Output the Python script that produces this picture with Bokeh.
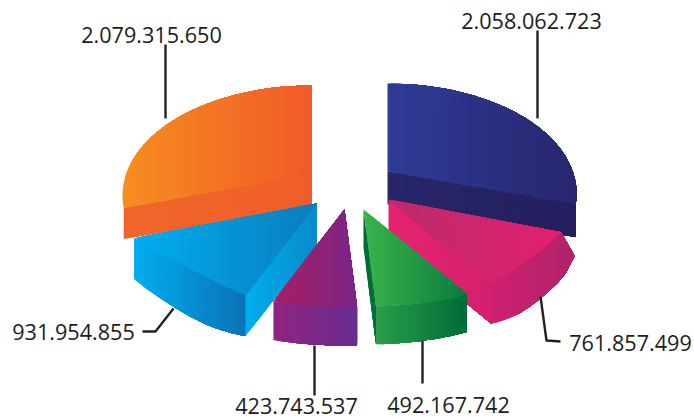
import math
from bokeh.plotting import figure
from bokeh.models import ColumnDataSource, Range1d
from bokeh.core.properties import value
from bokeh.embed import file_html
from bokeh.resources import INLINE

# ---- data (clockwise from the top) ----
names = ["blue", "magenta", "green", "purple", "cyan", "orange"]
values = [2058062723, 761857499, 492167742, 423743537, 931954855, 2079315650]
labels = ["2.058.062.723", "761.857.499", "492.167.742", "423.743.537", "931.954.855", "2.079.315.650"]

# ---- layout (page pixels of the picture) ----
W, H = 694, 419
CX, CY = 349, 190
RX, RY_BACK, RY_FRONT = 189, 88, 97
EXPLODE = {"blue": (38, -19), "magenta": (39, 9), "green": (14, 19),
           "purple": (-5, 19), "cyan": (-33, 13), "orange": (-38, -17)}
DEPTH = {"blue": 33, "magenta": 40, "green": 38, "purple": 39, "cyan": 41, "orange": 31}
ROUND = {"magenta": 0.25, "green": 1.0, "purple": 1.0, "cyan": 0.2}
TOP = {"blue": ("#2e3c97", "#28266f"), "magenta": ("#bb2b6c", "#e2206f"),
       "green": ("#3ab54a", "#0b7a3e"), "purple": ("#a81e62", "#7a2588"),
       "cyan": ("#00aeef", "#0a7dbe"), "orange": ("#f68e1f", "#f15a29")}
RIM = {"magenta": ("#cf1f70", "#ae246a"), "green": ("#2a9e4a", "#006b38"),
       "purple": ("#922480", "#662d91"), "cyan": ("#00aeef", "#0b72b6")}
CUT = {"blue": ("#272668", "#25205e"), "magenta": ("#e5246f", "#d3206f"),
       "green": ("#006b38", "#00713c"), "cyan": ("#00aeef", "#0a8ac9"),
       "orange": ("#f0672a", "#f15d28")}
LABEL_POS = [(531, 20), (630, 342), (448, 404), (296, 405), (73, 331), (151, 34)]
LEADERS = [([537, 537], [30, 118]),
           ([540, 546, 560], [296, 340, 341]),
           ([422, 422], [340, 383]),
           ([314, 314], [345, 395]),
           ([173, 155, 142], [308, 331, 331]),
           ([165, 165], [44, 118])]
TEXT_COLOR = "#1c1c1c"


def hex2rgb(h):
    return tuple(int(h[i:i + 2], 16) for i in (1, 3, 5))


def mix(c0, c1, t):
    a, b = hex2rgb(c0), hex2rgb(c1)
    return "#%02x%02x%02x" % tuple(round(a[i] + (b[i] - a[i]) * t) for i in range(3))


def clip(poly, xlim, keep_right):
    out = []
    n = len(poly)
    for i in range(n):
        p, q = poly[i], poly[(i + 1) % n]
        pin = p[0] >= xlim if keep_right else p[0] <= xlim
        qin = q[0] >= xlim if keep_right else q[0] <= xlim
        if pin:
            out.append(p)
        if pin != qin:
            t = (xlim - p[0]) / (q[0] - p[0])
            out.append((xlim, p[1] + (q[1] - p[1]) * t))
    return out


def add_gradient(src, poly, colors, step=3.0):
    # strips overlap their right neighbour, so that no seams show
    xs = [p[0] for p in poly]
    x0, x1 = min(xs), max(xs)
    n = max(1, int(math.ceil((x1 - x0) / step)))
    for k in range(n):
        a = x0 + (x1 - x0) * k / n
        part = clip(poly, a, True)
        if len(part) < 3:
            continue
        src["xs"].append([p[0] for p in part])
        src["ys"].append([p[1] for p in part])
        src["c"].append(mix(colors[0], colors[1], (k + 0.5) / n))


def back_rim(theta):
    """Large rear slices: rim of a slightly fuller ellipse, seen from the top."""
    sign = 1 if theta <= 180 else -1
    a = theta if theta <= 180 else 360 - theta
    phi = math.radians(a * 0.87)
    return (sign * RX * math.sin(phi), 22 - 110 * math.cos(phi))


def front_rim(theta, lower=False):
    """Front rim: an ellipse with the slight distortion of the hand-drawn pie."""
    t = math.radians(theta)
    k = 10 if theta < 200 else 10 - 23 * (theta - 200) / 49
    if lower and theta < 140:
        k *= max(0.0, (theta - 115) / 25)
    return (RX * math.sin(t) + k * math.sin(3 * t), -RY_FRONT * math.cos(t))


total = sum(values)
src = {"xs": [], "ys": [], "c": []}
bounds = {}
cum = 0
for name, v in zip(names, values):
    bounds[name] = (cum / total * 360, (cum + v) / total * 360)
    cum += v


def slice_geometry(name):
    t0, t1 = bounds[name]
    ax, ay = CX + EXPLODE[name][0], CY + EXPLODE[name][1]
    n = 60
    thetas = [t0 + (t1 - t0) * i / n for i in range(n + 1)]
    if name in ("blue", "orange"):
        rim = [back_rim(t) for t in thetas]
    else:
        curve = [front_rim(t) for t in thetas]
        r = ROUND[name]
        a, b = curve[0], curve[-1]
        rim = []
        for i, c in enumerate(curve):
            f = i / n
            ch = (a[0] + (b[0] - a[0]) * f, a[1] + (b[1] - a[1]) * f)
            rim.append((ch[0] + (c[0] - ch[0]) * r, ch[1] + (c[1] - ch[1]) * r))
    return (ax, ay), [(ax + x, ay + y) for x, y in rim], thetas


def down(p, d):
    return (p[0], p[1] + d)


def draw_cut(apex, end, name):
    d = DEPTH[name]
    add_gradient(src, [apex, end, down(end, d), down(apex, d)], CUT[name])


def draw_side(apex, rim, thetas, name, flare=0.0):
    d = DEPTH[name]
    ts = ([thetas[0] - flare] if flare else []) + list(thetas)
    lower = []
    for t in ts:
        q = front_rim(t, lower=True)
        lower.append((apex[0] + q[0], apex[1] + d + q[1]))
    add_gradient(src, rim + lower[::-1], RIM[name])


# back to front
for name in ["orange", "blue", "magenta", "cyan", "purple", "green"]:
    apex, rim, thetas = slice_geometry(name)
    if name == "orange":
        draw_cut(apex, rim[0], name)
    elif name == "blue":
        draw_cut(apex, rim[-1], name)
    elif name == "magenta":
        draw_side(apex, rim, thetas, name, flare=10)
        draw_cut(apex, rim[-1], name)
    elif name == "cyan":
        draw_side(apex, rim, thetas, name)
        draw_cut(apex, rim[0], name)
    elif name == "purple":
        draw_side(apex, rim, thetas, name)
    elif name == "green":
        draw_side(apex, rim, thetas, name)
        draw_cut(apex, rim[-1], name)
    add_gradient(src, [apex] + rim, TOP[name])

p = figure(width=W, height=H, output_backend="svg", toolbar_location=None,
           x_range=Range1d(0, W), y_range=Range1d(H, 0),
           min_border=0, outline_line_color=None, background_fill_color="white")
p.axis.visible = False
p.grid.visible = False

p.patches("xs", "ys", source=ColumnDataSource(src), fill_color="c", line_color=None)

for (lx, ly) in LEADERS:
    p.line(lx, ly, line_color="#222222", line_width=2.4, line_join="round")

p.text([q[0] for q in LABEL_POS], [q[1] for q in LABEL_POS], text=labels,
       text_font=value("Open Sans"), text_font_size="21.6px", text_color=TEXT_COLOR,
       text_align="center", text_baseline="middle")

open("out.html", "w").write(file_html(p, INLINE))
